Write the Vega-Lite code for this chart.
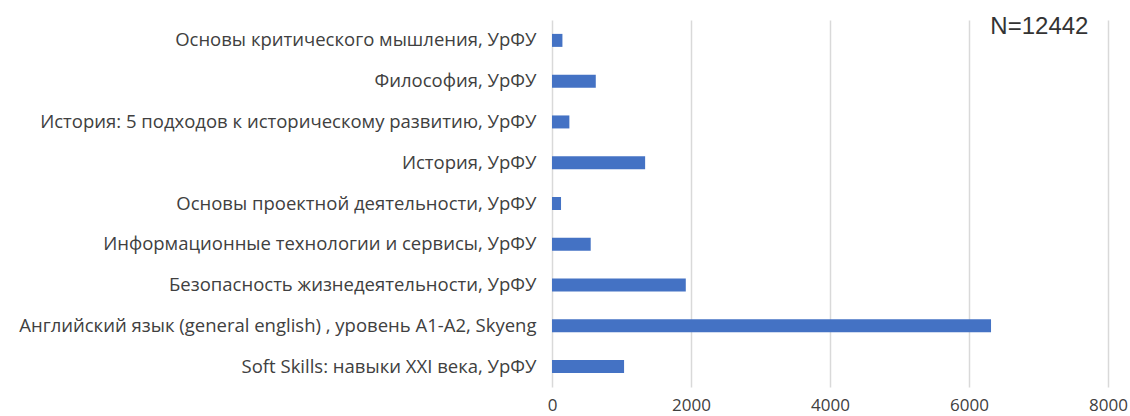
{
  "$schema": "https://vega.github.io/schema/vega-lite/v6.json",
  "width": 556,
  "height": 367,
  "padding": {"left": 0, "top": 15, "right": 0, "bottom": 6},
  "background": "white",
  "config": {"view": {"stroke": null}},
  "layer": [
    {
      "data": {"values": [
        {"course": "Основы критического мышления, УрФУ", "count": 150},
        {"course": "Философия, УрФУ", "count": 630},
        {"course": "История: 5 подходов к историческому развитию, УрФУ", "count": 250},
        {"course": "История, УрФУ", "count": 1340},
        {"course": "Основы проектной деятельности, УрФУ", "count": 130},
        {"course": "Информационные технологии и сервисы, УрФУ", "count": 557},
        {"course": "Безопасность жизнедеятельности, УрФУ", "count": 1925},
        {"course": "Английский  язык (general english) , уровень A1-A2, Skyeng", "count": 6317},
        {"course": "Soft Skills: навыки XXI века, УрФУ", "count": 1037}
      ]},
      "mark": {"type": "bar", "color": "#4472C4", "size": 13},
      "encoding": {
        "y": {
          "field": "course", "type": "nominal", "sort": null,
          "scale": {"paddingInner": 0, "paddingOuter": 0},
          "axis": {
            "title": null, "ticks": false, "domain": false, "grid": false,
            "labelFont": "Open Sans", "labelFontSize": 18.5, "labelColor": "#404040",
            "labelPadding": 16, "labelLimit": 600,
            "minExtent": 552, "maxExtent": 552
          }
        },
        "x": {
          "field": "count", "type": "quantitative",
          "scale": {"domain": [0, 8000], "nice": false},
          "axis": {
            "title": null, "values": [0, 2000, 4000, 6000, 8000], "format": "d",
            "ticks": false, "domain": false, "grid": true, "labelFlush": false,
            "gridColor": "#d9d9d9", "gridWidth": 1.5,
            "labelFont": "Open Sans", "labelFontSize": 17, "labelColor": "#404040",
            "labelPadding": 10
          }
        }
      }
    },
    {
      "data": {"values": [
        {"course": "Основы критического мышления, УрФУ", "x": 7013, "label": "N=12442"}
      ]},
      "mark": {"type": "text", "font": "Liberation Sans", "fontSize": 24, "color": "#333333", "baseline": "middle", "align": "center", "dy": -13},
      "encoding": {
        "y": {"field": "course", "type": "nominal", "sort": null},
        "x": {"field": "x", "type": "quantitative"},
        "text": {"field": "label"}
      }
    }
  ]
}
